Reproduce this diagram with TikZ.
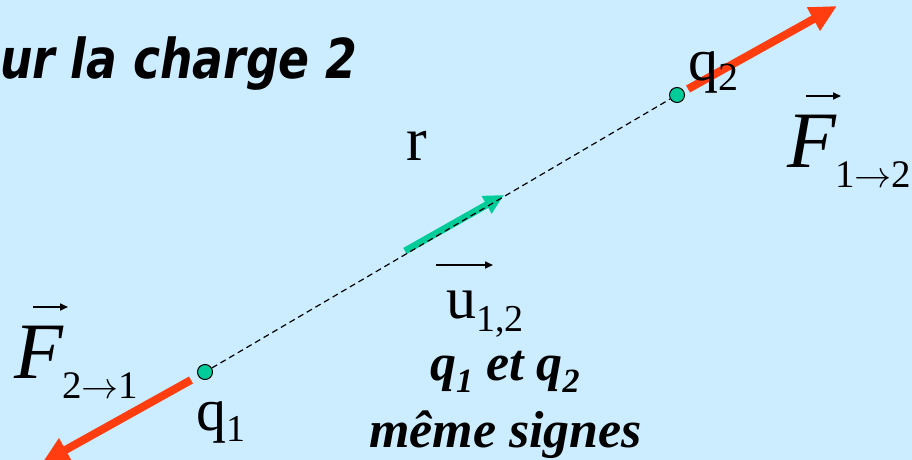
\documentclass[tikz,border=0pt]{standalone}
\usepackage{fontspec}
\usepackage{graphicx}
\setmainfont{Liberation Serif}
\newfontfamily\titlefont[FakeStretch=0.83]{DejaVu Sans}
\usetikzlibrary{arrows.meta,calc}
\definecolor{bg}{RGB}{204,236,255}
\definecolor{fred}{RGB}{255,61,15}
\definecolor{fgreen}{RGB}{0,204,153}
\newcommand\myfs[1]{\fontsize{#1}{#1}\selectfont}
\newcommand\myarr{\kern-0.5pt\resizebox{0.95em}{!}{$\rightarrow$}\kern-0.5pt}
\tikzset{
  lbl/.style={anchor=base west, inner sep=0pt, outer sep=0pt},
  charge/.style={circle, fill=fgreen, draw=black, line width=1pt, minimum size=15pt, inner sep=0pt},
  force/.style={draw=fred, line width=8pt, -{Triangle[length=27pt,width=25pt]}},
  unitvec/.style={draw=fgreen, line width=7pt, -{Triangle[length=20pt,width=19pt]}},
  overarrow/.style={draw=black, line width=1.6pt, -{Triangle[length=8pt,width=7pt]}},
  guide/.style={draw=black, line width=1.2pt, dash pattern=on 6pt off 4pt}
}
\begin{document}
\begin{tikzpicture}[x=1pt,y=-1pt]
\fill[bg] (0,0) rectangle (912,460);
\useasboundingbox (0,0) rectangle (912,460);

% title
\node[lbl] (title) at (0,78) {\titlefont\bfseries\itshape\myfs{55}ur la charge 2};

% charges
\node[charge] (q1) at (205,372) {};
\node[charge] (q2) at (677,95) {};

% unit vector (under dashed line)
\coordinate (us) at (405,251);
\coordinate (ut) at (504,195);
\draw[unitvec] (us) -- (ut);

% dashed line
\draw[guide] (q1) -- (q2);

% forces
\coordinate (f12s) at (688,89);
\coordinate (f12t) at (837,6);
\draw[force] (f12s) -- (f12t);
\coordinate (f21s) at (191,380);
\coordinate (f21t) at (42,463);
\draw[force] (f21s) -- (f21t);

% labels
\node[lbl] (lq2) at (688,80) {\myfs{60}q\raisebox{-10pt}{\myfs{40}2}};
\node[lbl] (lq1) at (196,430) {\myfs{60}q\raisebox{-11pt}{\myfs{38}1}};
\node[lbl] (lr) at (406,160) {\myfs{62}r};

% u_{1,2}
\node[lbl] (lu) at (446,318) {\myfs{60}u\raisebox{-13pt}{\myfs{38}1,2}};
\coordinate (ua) at (436,265);
\coordinate (ub) at (493,265);
\draw[overarrow] (ua) -- (ub);

% F_{1->2}
\node[lbl] (lf12) at (787,167) {\myfs{80}\itshape F\upshape\raisebox{-20pt}{\myfs{39}1\myarr2}};
\coordinate (fa) at (806,96);
\coordinate (fb) at (841,96);
\draw[overarrow] (fa) -- (fb);

% F_{2->1}
\node[lbl] (lf21) at (14,378) {\myfs{80}\itshape F\upshape\raisebox{-20pt}{\myfs{39}2\myarr1}};
\coordinate (ga) at (33,307);
\coordinate (gb) at (68,307);
\draw[overarrow] (ga) -- (gb);

% caption
\node[lbl] (cap1) at (430,380) {\bfseries\itshape\myfs{52}q\raisebox{-12pt}{\myfs{34}1} et q\raisebox{-12pt}{\myfs{34}2}};
\node[lbl] (cap2) at (369,447) {\bfseries\itshape\myfs{52}même signes};
\end{tikzpicture}
\end{document}
